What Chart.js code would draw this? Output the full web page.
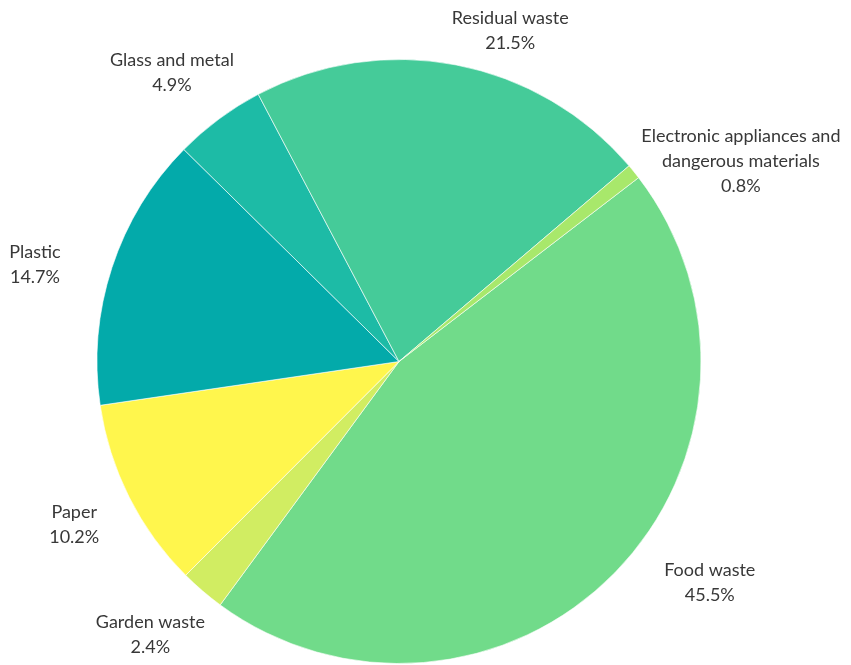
<!DOCTYPE html>
<html>
<head>
<meta charset="utf-8">
<script src="https://cdn.jsdelivr.net/npm/chart.js@4.4.1/dist/chart.umd.min.js"></script>
<style>
  html, body { margin: 0; padding: 0; background: #fff; }
  #wrap { width: 851px; height: 665px; }
</style>
</head>
<body>
<div id="wrap"><canvas id="waste-chart"></canvas></div>
<script>
// Composition of household waste, share of total weight (%)
const categories = [
  ["Food waste"],
  ["Garden waste"],
  ["Paper"],
  ["Plastic"],
  ["Glass and metal"],
  ["Residual waste"],
  ["Electronic appliances and", "dangerous materials"],
];
const shares = [45.5, 2.4, 10.2, 14.7, 4.9, 21.5, 0.8];

const sliceColors = [
  "#71DB8A", // food
  "#D1ED62", // garden
  "#FFF64D", // paper
  "#03AAAA", // plastic
  "#1DBBA6", // glass and metal
  "#45CB99", // residual
  "#A8E86B", // electronics
];

// where each label block sits relative to its slice's outer edge (dx, dy)
const labelNudge = [
  [95, 10],
  [-52, 44],
  [-55, 27],
  [-77, -3],
  [-47, -46],
  [54, -34],
  [107, -11],
];

const FONT = '18px Lato, "Open Sans", sans-serif';
const LINE_H = 25;

const outsideLabels = {
  id: "outsideLabels",
  afterDatasetsDraw(chart) {
    const ctx = chart.ctx;
    const arcs = chart.getDatasetMeta(0).data;
    ctx.save();
    ctx.font = FONT;
    ctx.fillStyle = "#383838";
    ctx.textAlign = "center";
    ctx.textBaseline = "middle";
    arcs.forEach((arc, i) => {
      const { x, y, startAngle, endAngle, outerRadius } = arc.getProps(
        ["x", "y", "startAngle", "endAngle", "outerRadius"], true
      );
      const mid = (startAngle + endAngle) / 2;
      const ex = x + Math.cos(mid) * outerRadius;
      const ey = y + Math.sin(mid) * outerRadius;
      const lines = categories[i].concat([shares[i].toFixed(1) + "%"]);
      const cx = ex + labelNudge[i][0];
      const cy = ey + labelNudge[i][1];
      const top = cy - ((lines.length - 1) * LINE_H) / 2;
      lines.forEach((t, k) => ctx.fillText(t, cx, top + k * LINE_H));
    });
    ctx.restore();
  },
};

new Chart(document.getElementById("waste-chart"), {
  type: "pie",
  data: {
    labels: categories,
    datasets: [
      {
        data: shares,
        backgroundColor: sliceColors,
        borderColor: "rgba(255, 255, 255, 0.6)",
        borderWidth: 1,
      },
    ],
  },
  options: {
    responsive: true,
    maintainAspectRatio: false,
    animation: false,
    rotation: 52.5,
    layout: { padding: { left: 95, right: 148, top: 59, bottom: 1 } },
    plugins: {
      legend: { display: false },
      tooltip: { enabled: false },
    },
  },
  plugins: [outsideLabels],
});
</script>
</body>
</html>
